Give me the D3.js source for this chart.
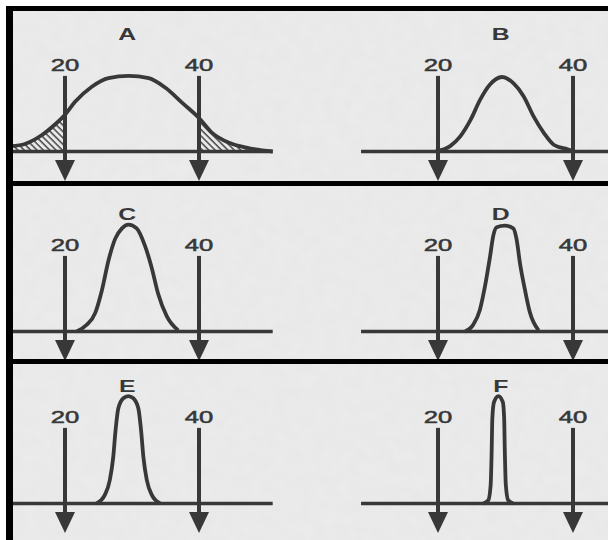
<!DOCTYPE html>
<html>
<head>
<meta charset="utf-8">
<script src="https://cdn.jsdelivr.net/npm/d3@7"></script>
<style>
  body { margin: 0; background: #fff; }
  svg { display: block; }
</style>
</head>
<body>
<div id="chart"></div>
<script>
// panel letters, reading order
var panelLabels = ["A", "B", "C", "D", "E", "F"];
// the two marked values on each axis
var markerValues = [20, 40];
var markerLabels = ["20", "40"];

// curve readings: [value, relative height]
var curveA = [[12, 0.05], [14, 0.07], [16.5, 0.15], [18.5, 0.25], [20, 0.34], [21.5, 0.46], [24, 0.60],
  [26.5, 0.68], [29.5, 0.70], [32.5, 0.68], [35, 0.59], [37.5, 0.45], [40, 0.31], [42, 0.17],
  [44.5, 0.08], [47.5, 0.03], [51, 0.0]];
var curveB = [[19.6, 0], [21.8, 0.05], [23.3, 0.14], [24.8, 0.29], [26.25, 0.48], [27.7, 0.62], [29.5, 0.69],
  [31.2, 0.63], [32.7, 0.51], [34.2, 0.32], [35.7, 0.17], [37.2, 0.06], [39.2, 0.02], [40.2, 0]];
var curveC = [[21.75, 0], [23.2, 0.06], [24.5, 0.17], [25.5, 0.38], [26.5, 0.66], [27.5, 0.86], [28.5, 0.955],
  [29.45, 0.99], [30.7, 0.955], [31.9, 0.80], [32.9, 0.60], [33.9, 0.35], [35.2, 0.14], [36.9, 0.01]];
var curveD = [[24, 0], [25.2, 0.06], [26.2, 0.2], [26.95, 0.415], [27.7, 0.69], [28.2, 0.89], [28.7, 0.965],
  [29.9, 0.98], [31.15, 0.955], [31.65, 0.85], [32.15, 0.63], [32.9, 0.38], [33.6, 0.18], [34.9, 0.01]];
var curveE = [[24.7, 0], [25.95, 0.08], [26.7, 0.22], [27.2, 0.43], [27.55, 0.68], [27.95, 0.88], [28.7, 0.975],
  [29.45, 0.995], [30.2, 0.975], [30.95, 0.88], [31.35, 0.68], [31.7, 0.43], [32.2, 0.22], [32.95, 0.08], [34.2, 0]];
var curveF = [[26.7, 0], [27.45, 0.03], [27.8, 0.17], [27.95, 0.48], [28.05, 0.79], [28.3, 0.94], [28.95, 0.995],
  [29.6, 0.94], [29.8, 0.79], [29.9, 0.48], [30.05, 0.17], [30.4, 0.03], [31.15, 0]];
var curves = [curveA, curveB, curveC, curveD, curveE, curveF];

// tails of curve A that are hatched
var shadedA = [[10, 20], [40, 54]];

var width = 608, height = 540;
var ink = "#383838";

// layout of the 2 x 3 grid
var columns = [
  { at20: 65, at40: 199, extent: [12, 51] },
  { at20: 438, at40: 573, extent: [8.6, 46] }
];
var rowBase = [151.5, 331.5, 503.5];
var unitHeight = 108;

var svg = d3.select("#chart").append("svg")
  .attr("width", width)
  .attr("height", height);

var defs = svg.append("defs");
defs.append("pattern")
  .attr("id", "hatch")
  .attr("patternUnits", "userSpaceOnUse")
  .attr("width", 4.5)
  .attr("height", 4.5)
  .attr("patternTransform", "rotate(-45)")
  .append("line")
  .attr("x1", 1).attr("y1", 0).attr("x2", 1).attr("y2", 4.5)
  .attr("stroke", ink)
  .attr("stroke-width", 1.4);

// faint paper grain
var grain = defs.append("filter").attr("id", "grain").attr("x", 0).attr("y", 0).attr("width", "100%").attr("height", "100%");
grain.append("feTurbulence").attr("type", "fractalNoise").attr("baseFrequency", 0.08).attr("numOctaves", 2).attr("seed", 3);
grain.append("feColorMatrix").attr("type", "matrix")
  .attr("values", "0 0 0 0 0.55  0 0 0 0 0.55  0 0 0 0 0.55  0 0 0 0.12 0");
grain.append("feComposite").attr("in2", "SourceGraphic").attr("operator", "in");

// paper
svg.append("rect").attr("width", width).attr("height", height).attr("fill", "#fff");
svg.append("rect").attr("x", 6).attr("y", 6).attr("width", width - 6).attr("height", height - 6).attr("fill", "#ececec");
svg.append("rect").attr("x", 6).attr("y", 6).attr("width", width - 6).attr("height", height - 6)
  .attr("fill", "#ececec").attr("filter", "url(#grain)");

panelLabels.forEach(function (label, i) {
  var col = columns[i % 2];
  var base = rowBase[Math.floor(i / 2)];
  var x = d3.scaleLinear().domain(markerValues).range([col.at20, col.at40]);
  var y = d3.scaleLinear().domain([0, 1]).range([base, base - unitHeight]);
  var g = svg.append("g").attr("class", "panel panel-" + label);

  var line = d3.line()
    .x(function (d) { return x(d[0]); })
    .y(function (d) { return y(d[1]); })
    .curve(d3.curveMonotoneX);

  // hatched tails
  if (label === "A") {
    var area = d3.area()
      .x(function (d) { return x(d[0]); })
      .y0(y(0))
      .y1(function (d) { return y(d[1]); })
      .curve(d3.curveMonotoneX);
    var clip = defs.append("clipPath").attr("id", "tails");
    shadedA.forEach(function (s) {
      clip.append("rect")
        .attr("x", x(s[0])).attr("y", 0)
        .attr("width", x(s[1]) - x(s[0])).attr("height", height);
    });
    g.append("path")
      .datum(curves[i])
      .attr("d", area)
      .attr("fill", "url(#hatch)")
      .attr("clip-path", "url(#tails)");
  }

  // baseline
  g.append("line")
    .attr("x1", x(col.extent[0])).attr("x2", x(col.extent[1]))
    .attr("y1", y(0)).attr("y2", y(0))
    .attr("stroke", ink)
    .attr("stroke-width", 3.5);

  // curve
  g.append("path")
    .datum(curves[i])
    .attr("d", line)
    .attr("fill", "none")
    .attr("stroke", ink)
    .attr("stroke-width", 3.8)
    .attr("stroke-linejoin", "round");

  // arrows at 20 and 40
  markerValues.forEach(function (v, k) {
    var ax = x(v);
    var tip = y(0) + 29.5;
    g.append("line")
      .attr("x1", ax).attr("x2", ax)
      .attr("y1", y(0.70)).attr("y2", tip - 18)
      .attr("stroke", ink)
      .attr("stroke-width", 4);
    g.append("path")
      .attr("d", "M" + (ax - 10) + "," + (tip - 21) + "L" + (ax + 10) + "," + (tip - 21) + "L" + ax + "," + tip + "Z")
      .attr("fill", ink);
    g.append("text")
      .attr("transform", "translate(" + ax + "," + (y(0) - 81) + ") scale(1.6,1)")
      .attr("text-anchor", "middle")
      .attr("font-family", "Liberation Sans, Arial, sans-serif")
      .attr("font-size", 16)
      .attr("fill", ink)
      .attr("stroke", ink)
      .attr("stroke-width", 0.5)
      .text(markerLabels[k]);
  });

  // panel letter
  g.append("text")
    .attr("transform", "translate(" + x(29.3) + "," + (y(0) - 111.5) + ") scale(1.55,1)")
    .attr("text-anchor", "middle")
    .attr("font-family", "Liberation Sans, Arial, sans-serif")
    .attr("font-weight", "bold")
    .attr("font-size", 16)
    .attr("fill", ink)
    .text(label);
});

// frame
svg.append("rect").attr("x", 6).attr("y", 6).attr("width", width - 6).attr("height", 5).attr("fill", "#000");
svg.append("rect").attr("x", 6).attr("y", 6).attr("width", 7).attr("height", height - 6).attr("fill", "#000");
svg.append("rect").attr("x", 6).attr("y", 181).attr("width", width - 6).attr("height", 5).attr("fill", "#000");
svg.append("rect").attr("x", 6).attr("y", 359).attr("width", width - 6).attr("height", 5).attr("fill", "#000");
</script>
</body>
</html>
